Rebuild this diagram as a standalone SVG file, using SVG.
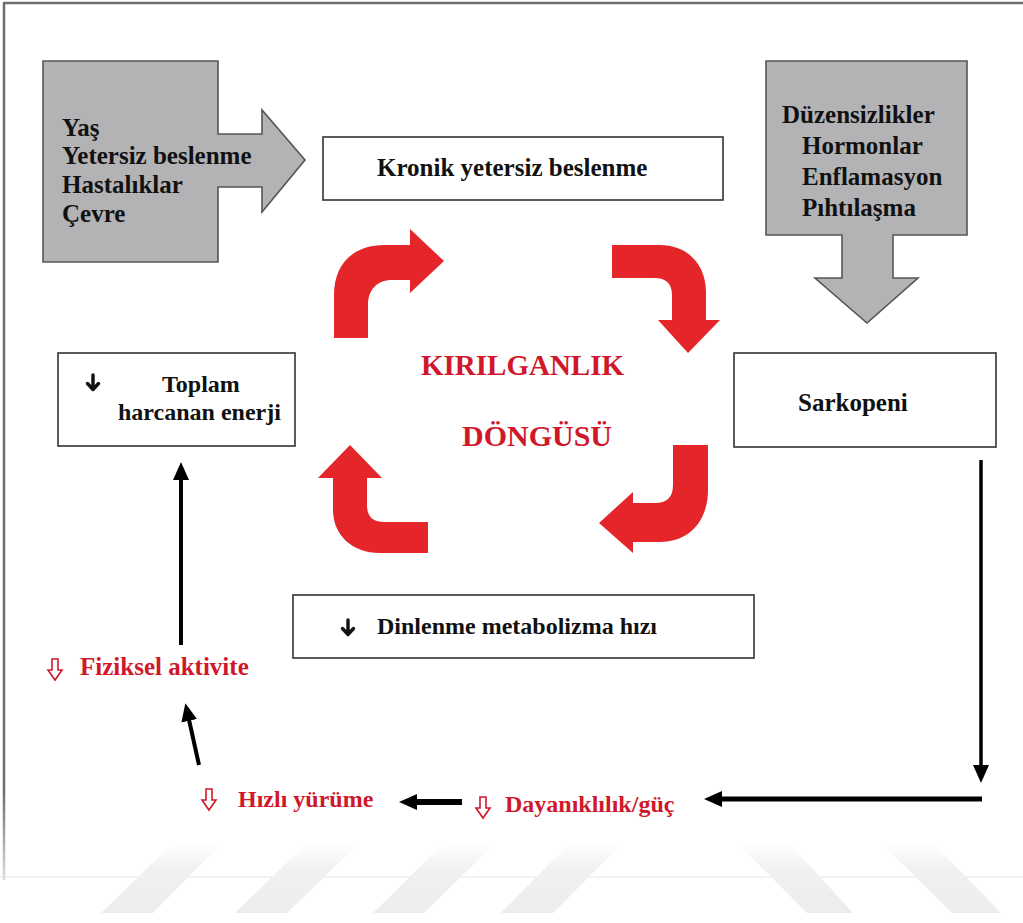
<svg xmlns="http://www.w3.org/2000/svg" width="1023" height="923" viewBox="0 0 1023 923">
<style>
.bx{fill:#fff;stroke:#333;stroke-width:1.6}
.gr{fill:#b3b3b5;stroke:#555;stroke-width:1.6}
.t{font-family:"Liberation Serif","Times New Roman","DejaVu Serif",serif;font-weight:bold;font-size:25px;fill:#111}
.s24{font-size:24px}
.r{font-family:"Liberation Serif","Times New Roman","DejaVu Serif",serif;font-weight:bold;font-size:24px;fill:#d0182b}
.big{font-family:"Liberation Serif","Times New Roman","DejaVu Serif",serif;font-weight:bold;font-size:29px;fill:#d0182b}
.ra{fill:#e4262b}
.con{stroke:#000;fill:none}
.ic{stroke:#111;stroke-width:3.4;fill:none;stroke-linecap:round;stroke-linejoin:round}
.hol{fill:#fff;stroke:#d0182b;stroke-width:1.6;stroke-linejoin:miter}
.wm{fill:url(#wmg)}
</style>
<defs>
<marker id="ah" markerUnits="userSpaceOnUse" markerWidth="18" markerHeight="16" viewBox="0 0 18 16" refX="8" refY="8" orient="auto">
<path d="M0,0 L18,8 L0,16 z" fill="#000"/>
</marker>
<linearGradient id="wmg" x1="0" y1="843" x2="0" y2="913" gradientUnits="userSpaceOnUse">
<stop offset="0" stop-color="#ffffff"/>
<stop offset="0.4" stop-color="#f0f0f0"/>
<stop offset="1" stop-color="#ededed"/>
</linearGradient>
<linearGradient id="fr" x1="0" y1="0" x2="0" y2="880" gradientUnits="userSpaceOnUse">
<stop offset="0.9" stop-color="#6e6e6e"/>
<stop offset="1" stop-color="#dddddd"/>
</linearGradient>
</defs>
<rect width="1023" height="923" fill="#fff"/>
<g id="watermark">
<polygon class="wm" points="173,843 222,843 153,913 101,913"/>
<polygon class="wm" points="307,843 359,843 287,913 235,913"/>
<polygon class="wm" points="444,843 496,843 424,913 373,913"/>
<polygon class="wm" points="570,843 623,843 553,913 501,913"/>
<polygon class="wm" points="737,843 789,843 853,913 807,913"/>
<polygon class="wm" points="881,843 933,843 1001,913 952,913"/>
<line x1="0" y1="877" x2="1023" y2="877" stroke="#f2f2f2" stroke-width="2"/>
</g>
<g id="frame">
<line x1="3" y1="3" x2="1023" y2="3" stroke="#6e6e6e" stroke-width="2.5"/>
<line x1="4" y1="3" x2="4" y2="880" stroke="url(#fr)" stroke-width="2.5"/>
</g>
<g id="n-factors">
<path class="gr" d="M43,61 H218 V134 H262 V110 L305,160 L262,212 V187 H218 V262 H43 Z"/>
<text class="t" x="62" y="136">Yaş</text>
<text class="t" x="62" y="164">Yetersiz beslenme</text>
<text class="t" x="62" y="193">Hastalıklar</text>
<text class="t" x="62" y="222">Çevre</text>
</g>
<g id="n-disorders">
<path class="gr" d="M766,61 H967 V235 H893 V278 H918 L867,323 L815,278 H842 V235 H766 Z"/>
<text class="t" x="782" y="123">Düzensizlikler</text>
<text class="t" x="802" y="154">Hormonlar</text>
<text class="t" x="802" y="185">Enflamasyon</text>
<text class="t" x="802" y="216">Pıhtılaşma</text>
</g>
<g id="n-kronik">
<rect class="bx" x="323" y="137" width="400" height="63"/>
<text class="t" x="377" y="176">Kronik yetersiz beslenme</text>
</g>
<g id="n-sarkopeni">
<rect class="bx" x="734" y="353" width="262" height="94"/>
<text class="t" x="798" y="411">Sarkopeni</text>
</g>
<g id="n-toplam">
<rect class="bx" x="58" y="353" width="237" height="93"/>
<path class="ic" d="M93,375 V389 M87.5,383.5 L93,389.5 L98.5,383.5"/>
<text class="t s24" x="162" y="392">Toplam</text>
<text class="t s24" x="118" y="420">harcanan enerji</text>
</g>
<g id="n-dinlenme">
<rect class="bx" x="293" y="595" width="461" height="63"/>
<path class="ic" d="M348,620 V634 M342.5,628.5 L348,634.5 L353.5,628.5"/>
<text class="t s24" x="377" y="634">Dinlenme metabolizma hızı</text>
</g>
<g id="n-cycle">
<path class="ra" d="M334,338 V295 C334,265 352,245 385,245 H410 V229 L444,261 L410,293 V280 H392 C377,280 368,290 368,305 V338 Z"/>
<path class="ra" d="M612,245 H660 C688,245 706,265 706,292 V320 H720 L688,353 L658,320 H672 V295 C672,283 665,278 655,278 H612 Z"/>
<path class="ra" d="M673,445 H708 V490 C708,520 690,542 660,542 H633 V553 L599,523 L633,492 V503 H655 C667,503 673,497 673,485 Z"/>
<path class="ra" d="M350,445 L382,478 H367 V505 C367,517 373,522 385,522 H428 V553 H380 C352,553 333,535 333,510 V478 H318 Z"/>
<text class="big" x="421" y="375">KIRILGANLIK</text>
<text class="big" x="462" y="446" style="font-size:30px">DÖNGÜSÜ</text>
</g>
<g id="n-fiziksel">
<path class="hol" d="M52,659 H58 V670 H62 L55,680 L48,670 H52 Z"/>
<text class="r" x="80" y="675" style="font-size:25px">Fiziksel aktivite</text>
</g>
<g id="n-hizli">
<path class="hol" d="M206,789 H212 V800 H216 L209,810 L202,800 H206 Z"/>
<text class="r" x="238" y="807">Hızlı yürüme</text>
</g>
<g id="n-dayaniklilik">
<path class="hol" d="M480,797 H486 V808 H490 L483,818 L476,808 H480 Z"/>
<text class="r" x="505" y="812">Dayanıklılık/güç</text>
</g>
<g id="connectors">
<line class="con" x1="981" y1="460" x2="981" y2="773" stroke-width="3.5" marker-end="url(#ah)"/>
<line class="con" x1="982" y1="799" x2="714" y2="799" stroke-width="5" marker-end="url(#ah)"/>
<line class="con" x1="462" y1="802" x2="409" y2="802" stroke-width="6" marker-end="url(#ah)"/>
<line class="con" x1="199" y1="765" x2="187.5" y2="713" stroke-width="4" marker-end="url(#ah)"/>
<line class="con" x1="181" y1="645" x2="181" y2="472" stroke-width="4" marker-end="url(#ah)"/>
</g>
</svg>
